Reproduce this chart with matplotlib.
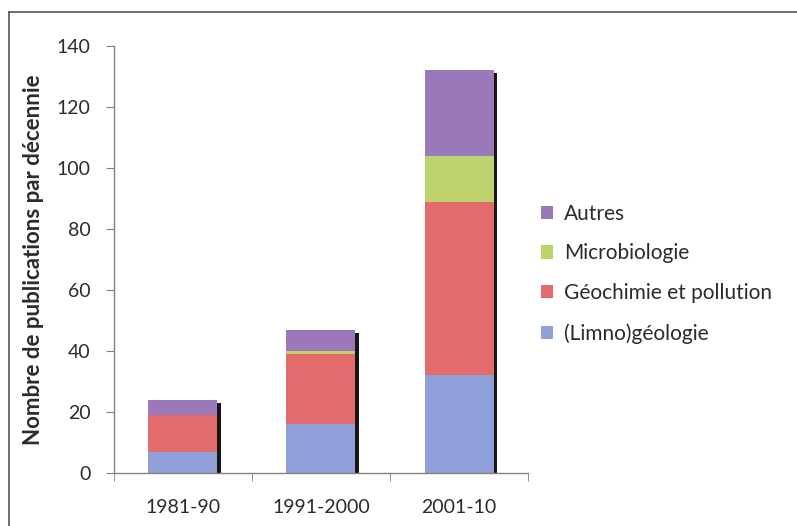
import matplotlib.pyplot as plt
import numpy as np
from matplotlib.lines import Line2D

plt.rcParams['font.family'] = ['Lato', 'DejaVu Sans']

decades = ['1981-90', '1991-2000', '2001-10']
limno = [7, 16, 32]
geochimie = [12, 23, 57]
microbio = [0, 1, 15]
autres = [5, 7, 28]

series = [
    ('(Limno)géologie', limno, '#8e9fd9'),
    ('Géochimie et pollution', geochimie, '#e26b6b'),
    ('Microbiologie', microbio, '#bdd46e'),
    ('Autres', autres, '#9a78b9'),
]

axis_col = '#8a7d7b'
text_col = '#2b2b2b'

fig = plt.figure(figsize=(7.97, 5.26), dpi=100)
ax = fig.add_axes([0.143, 0.1008, 0.5195, 0.8117])

x = np.arange(len(decades))
width = 0.5

# shadow behind each stack
totals = np.sum([s[1] for s in series], axis=0)
ax.bar(x + 0.022, totals - 1.0, width, color='#1a1414', zorder=1)

bottom = np.zeros(len(decades))
handles = []
for name, vals, col in series:
    b = ax.bar(x, vals, width, bottom=bottom, color=col, label=name, zorder=2)
    handles.append(b)
    bottom += np.array(vals)

ax.set_xlim(-0.5, 2.5)
ax.set_ylim(0, 140)
ax.set_yticks(np.arange(0, 141, 20))
ax.set_xticks(x)
ax.set_xticklabels(decades)
ax.set_xticks([-0.5, 0.5, 1.5, 2.5], minor=True)
ax.tick_params(axis='x', which='major', length=0, pad=19, labelsize=14, labelcolor=text_col)
ax.tick_params(axis='x', which='minor', length=6, color=axis_col, direction='out')
ax.tick_params(axis='y', length=6, color=axis_col, direction='out', pad=11, labelsize=14, labelcolor=text_col)

for side in ['top', 'right']:
    ax.spines[side].set_visible(False)
for side in ['left', 'bottom']:
    ax.spines[side].set_color(axis_col)
    ax.spines[side].set_linewidth(1.0)

ax.set_ylabel('Nombre de publications par décennie', fontsize=16, fontweight='bold', color=text_col, labelpad=9)

leg = fig.legend(handles[::-1], [s[0] for s in series][::-1], loc='center left',
                 bbox_to_anchor=(0.655, 0.48), frameon=False, fontsize=15,
                 handlelength=0.6, handleheight=0.6, handletextpad=0.5, labelspacing=0.95)
for t in leg.get_texts():
    t.set_color(text_col)

# frame lines of the scanned figure (top and left only)
fig.add_artist(Line2D([9 / 797, 1.0], [1 - 12 / 526, 1 - 12 / 526], color='#555555', lw=1.2))
fig.add_artist(Line2D([9 / 797, 9 / 797], [0.0, 1 - 12 / 526], color='#555555', lw=1.2))

fig.savefig('out.png', dpi=100)
